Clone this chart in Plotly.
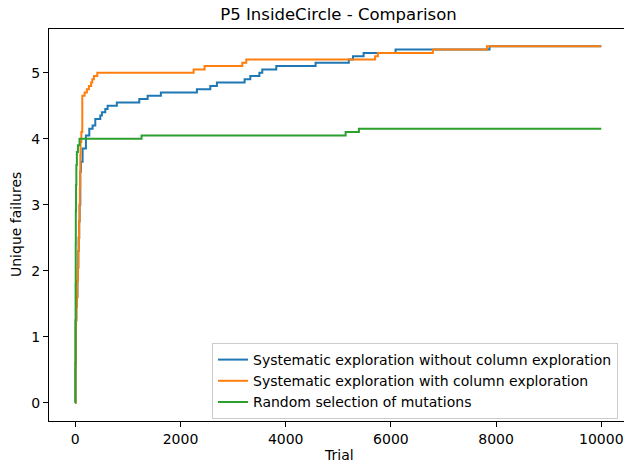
import plotly.graph_objects as go

# Step points (trial at which the mean count changes, new value)
blue_x = [0, 3, 8, 20, 30, 40, 49, 57, 65, 74, 82, 95, 106, 139, 202, 266, 329, 380, 475, 506, 570, 614, 790,
          1217, 1375, 1627, 2312, 2567, 2692, 3219, 3327, 3500, 3555, 3821, 4568,
          5200, 5280, 5481, 6089, 7876, 10000]
blue_y = [0, 0.6, 1.25, 1.45, 1.6, 1.85, 2.05, 2.3, 2.5, 2.75, 3.0, 3.5, 3.65, 3.85, 4.05, 4.15, 4.20, 4.30, 4.35, 4.40, 4.45, 4.50, 4.55,
          4.60, 4.65, 4.70, 4.75, 4.80, 4.85, 4.90, 4.95, 5.00, 5.05, 5.10, 5.15,
          5.20, 5.25, 5.30, 5.35, 5.40, 5.40]

orange_x = [0, 3, 8, 20, 30, 40, 49, 57, 65, 74, 82, 87, 92, 96, 100, 115, 133, 177, 220, 259, 300, 323, 354, 418,
            2249, 2458, 3175, 3251, 5700, 5753, 6798, 7825, 10000]
orange_y = [0, 0.6, 1.25, 1.45, 1.6, 1.85, 2.05, 2.3, 2.5, 2.75, 3.0, 3.25, 3.5, 3.75, 3.95, 4.1, 4.65, 4.70, 4.75, 4.80, 4.85, 4.90, 4.95, 5.00,
            5.05, 5.10, 5.15, 5.20, 5.25, 5.30, 5.35, 5.40, 5.40]

green_x = [0, 2, 4, 6, 8, 10, 14, 20, 30, 50, 80, 1260, 5139, 5392, 10000]
green_y = [0, 0.5, 1.2, 1.8, 2.4, 2.9, 3.3, 3.6, 3.8, 3.9, 4.0, 4.05, 4.10, 4.15, 4.15]

names = ["Systematic exploration without column exploration",
         "Systematic exploration with column exploration",
         "Random selection of mutations"]
colors = ["#1f77b4", "#ff7f0e", "#2ca02c"]

x_ticks = [0, 2000, 4000, 6000, 8000, 10000]
y_ticks = [0, 1, 2, 3, 4, 5]

fig = go.Figure()
for xs, ys, nm, c in zip([blue_x, orange_x, green_x], [blue_y, orange_y, green_y], names, colors):
    fig.add_trace(go.Scatter(x=xs, y=ys, mode="lines", name=nm,
                             line=dict(color=c, width=2, shape="hv")))

font = "DejaVu Sans, Arial, sans-serif"
L, T, B = 49, 29, 43
W, H = 624, 464
fig.update_layout(
    width=W, height=H,
    margin=dict(l=L, r=0, t=T, b=B, autoexpand=False),
    plot_bgcolor="white", paper_bgcolor="white",
    font=dict(family=font, size=14, color="#000000"),
    title=dict(text="P5 InsideCircle - Comparison", x=338.5 / W, xanchor="center",
               xref="container", yref="container",
               y=1 - 14 / H, yanchor="middle", automargin=False,
               font=dict(size=16.5, family=font, color="#000")),
    xaxis=dict(range=[-500, 10432], tickvals=x_ticks, ticktext=[str(v) for v in x_ticks],
               showgrid=False, zeroline=False, showline=True, linecolor="black", linewidth=1,
               mirror=True, ticks="outside", ticklen=5, tickcolor="black", automargin=False,
               tickfont=dict(size=14)),
    yaxis=dict(range=[-0.277, 5.662], tickvals=y_ticks, ticktext=[str(v) for v in y_ticks],
               showgrid=False, zeroline=False, showline=True, linecolor="black", linewidth=1,
               ticks="outside", ticklen=5, tickcolor="black", automargin=False,
               tickfont=dict(size=14)),
    legend=dict(x=(212 - L) / (W - L), y=(421 - 419) / (H - T - B), xanchor="left", yanchor="bottom",
                bgcolor="rgba(255,255,255,0.85)", bordercolor="#cccccc", borderwidth=1,
                font=dict(size=14), tracegroupgap=0, itemwidth=30),
    showlegend=True,
    annotations=[
        dict(text="Trial", xref="paper", yref="paper", x=(338.5 - L) / (W - L),
             y=-(455 - 421) / (H - T - B), xanchor="center", yanchor="middle",
             showarrow=False, font=dict(size=14)),
        dict(text="Unique failures", xref="paper", yref="paper", x=-(49 - 16) / (W - L),
             y=0.5, xanchor="center", yanchor="middle", textangle=-90,
             showarrow=False, font=dict(size=14)),
    ],
)
fig.write_html("out.html", config={"displayModeBar": False},
               post_script="document.body.style.margin='0px';document.body.style.overflow='hidden';")
